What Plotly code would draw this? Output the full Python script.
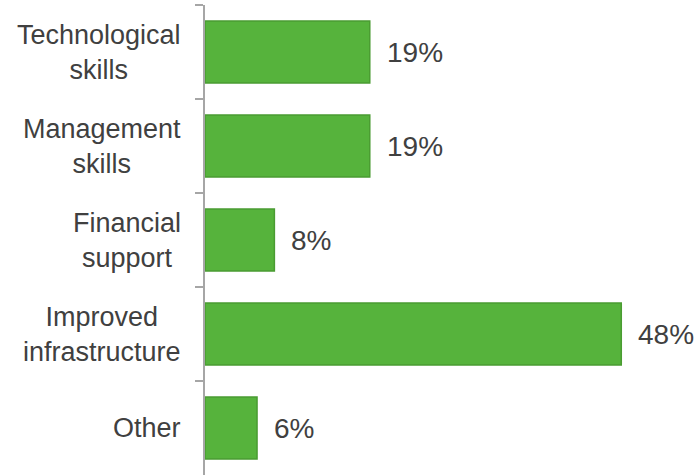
import plotly.graph_objects as go

# Share of respondents by type of support needed
categories = [
    "Technological<br>skills",
    "Management<br>skills",
    "Financial<br>support",
    "Improved<br>infrastructure",
    "Other",
]
shares = [19, 19, 8, 48, 6]
share_labels = [f"{v}%" for v in shares]

FONT = "Liberation Sans, Arial, sans-serif"
TEXT_COLOR = "#404040"

fig = go.Figure(
    go.Bar(
        x=shares,
        y=categories,
        orientation="h",
        marker=dict(color="#56b33c", line=dict(color="#4a9c32", width=1.5)),
        hoverinfo="skip",
    )
)

# Value labels to the right of each bar
for cat, val, lab in zip(categories, shares, share_labels):
    fig.add_annotation(
        x=val, y=cat, text=lab, showarrow=False,
        xanchor="left", yanchor="middle", xshift=15,
        font=dict(family=FONT, size=28, color=TEXT_COLOR),
    )

# Category names, lines centred on each other, block right-aligned to the axis
for cat in categories:
    fig.add_annotation(
        x=0, xref="paper", y=cat, text=cat, showarrow=False,
        xanchor="right", yanchor="middle", align="center", xshift=-22,
        font=dict(family=FONT, size=27, color=TEXT_COLOR),
    )

fig.update_layout(
    width=695, height=475,
    margin=dict(l=205, r=0, t=5, b=0),
    paper_bgcolor="white", plot_bgcolor="white",
    bargap=0.34,
    showlegend=False,
    font=dict(family=FONT, size=27, color=TEXT_COLOR),
)
fig.update_xaxes(
    range=[0, 56.5], showgrid=False, zeroline=False,
    showticklabels=False, showline=False, ticks="",
)
fig.update_yaxes(
    categoryorder="array", categoryarray=categories, autorange="reversed",
    showline=True, linecolor="#a6a6a6", linewidth=2,
    ticks="outside", tickson="boundaries", ticklen=8, tickwidth=2,
    tickcolor="#a6a6a6", showticklabels=False,
    showgrid=False, zeroline=False,
)

fig.write_html("out.html")
